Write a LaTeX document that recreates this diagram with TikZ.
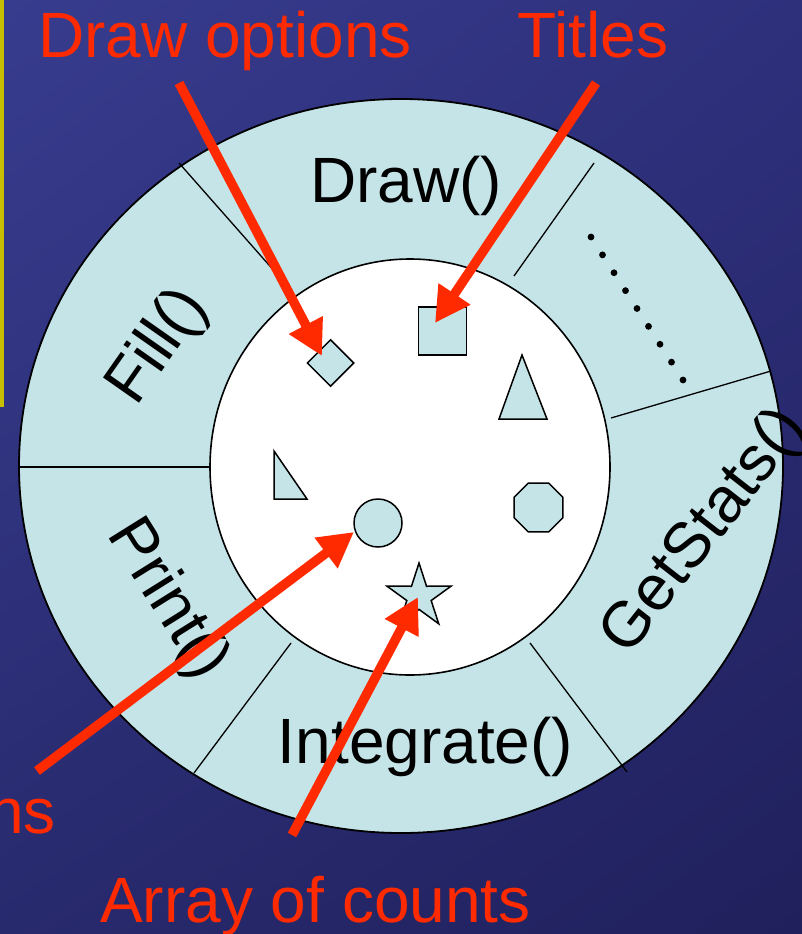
\documentclass[tikz,border=0pt]{standalone}
\usepackage{fontspec}
\setmainfont{Liberation Sans}
\usetikzlibrary{arrows.meta,shapes.geometric,shadings}
\definecolor{bgTL}{RGB}{56,60,142}
\definecolor{bgTR}{RGB}{46,48,124}
\definecolor{bgBL}{RGB}{40,42,110}
\definecolor{bgBR}{RGB}{32,32,92}
\definecolor{yellowline}{RGB}{200,190,0}
\definecolor{lightcyan}{RGB}{197,228,232}
\definecolor{arrowred}{RGB}{255,42,0}
\tikzset{
  lbl/.style={font=\fontsize{64}{72}\selectfont, inner sep=0pt, text=black},
  redlbl/.style={lbl, text=arrowred},
  redarrow/.style={draw=arrowred, line width=9.5pt, -{Triangle[length=35pt,width=36pt]}},
  shapeobj/.style={draw=black, fill=lightcyan, line width=1.5pt},
  divider/.style={draw=black, line width=1.3pt},
  ring/.style={ellipse, draw=black, fill=lightcyan, line width=1.8pt, inner sep=0pt},
  hole/.style={ellipse, draw=black, fill=white, line width=1.6pt, inner sep=0pt}
}
\begin{document}
\begin{tikzpicture}[x=1pt,y=-1pt]
\useasboundingbox (0,0) rectangle (802,934);
\clip (0,0) rectangle (802,934);
\shade[upper left=bgTL, upper right=bgTR, lower left=bgBL, lower right=bgBR] (0,0) rectangle (802,934);
\fill[yellowline] (0,0) rectangle (3.5,407);

% rings
\node[ring, minimum width=764pt, minimum height=734pt] (outer) at (401,466) {};
\node[hole, minimum width=400pt, minimum height=416pt] (inner) at (410,467) {};

% sector dividers
\draw[divider] (179,163) -- (276,273);
\draw[divider] (594,163) -- (514,276);
\draw[divider] (771,371) -- (611,418);
\draw[divider] (19,467) -- (210,467);
\draw[divider] (291,643) -- (194,773);
\draw[divider] (530,643) -- (627,772);

% dots
\foreach \k in {0,...,8}
  \fill[black] (591+11.5*\k, 237+17.875*\k) circle (3.4pt);

% method labels
\node[lbl, anchor=base] (draw) at (406,202) {Draw()};
\node[lbl, anchor=base] (integ) at (425.5,763) {Integrate()};
\node[lbl, rotate=55] (fill) at (159,347) {Fill()};
\node[lbl, rotate=-58] (print) at (167,600) {Print()};
\node[lbl, rotate=52] (stats) at (705,532) {GetStats()};

% objects
\node[shapeobj, diamond, minimum width=47pt, minimum height=47pt, inner sep=0pt] (dia) at (330.5,363) {};
\node[shapeobj, rectangle, minimum size=48pt, inner sep=0pt] (sq) at (442.5,331) {};
\node[shapeobj, circle, minimum size=48pt, inner sep=0pt] (circ) at (378,523) {};
\filldraw[shapeobj] (522,355) -- (547,419) -- (499,419) -- cycle;
\filldraw[shapeobj] (274,451) -- (307,499) -- (274,499) -- cycle;
\filldraw[shapeobj, shift={(538.5,507.5)}] (22.5:26.5) -- (67.5:26.5) -- (112.5:26.5) -- (157.5:26.5) -- (202.5:26.5) -- (247.5:26.5) -- (292.5:26.5) -- (337.5:26.5) -- cycle;
\filldraw[shapeobj, shift={(419,596.6)}] (-90:33.6) -- (-54:12.8) -- (-18:33.6) -- (18:12.8) -- (54:33.6) -- (90:12.8) -- (126:33.6) -- (162:12.8) -- (198:33.6) -- (234:12.8) -- cycle;

% red labels
\node[redlbl, anchor=base] (optlbl) at (225,58) {Draw options};
\node[redlbl, anchor=base] (titlbl) at (593,58) {Titles};
\node[redlbl, anchor=base] (arrlbl) at (315.5,922) {Array of counts};
\node[redlbl, anchor=base east] (nslbl) at (56,833) {ns};

% arrow ends
\coordinate (s1) at (179,83);
\coordinate (t1) at (322,356);
\coordinate (s2) at (596,83);
\coordinate (t2) at (435,323);
\coordinate (s3) at (37,771);
\coordinate (t3) at (354,532);
\coordinate (s4) at (292,835);
\coordinate (t4) at (418,597);
\draw[redarrow] (s1) -- (t1);
\draw[redarrow] (s2) -- (t2);
\draw[redarrow] (s3) -- (t3);
\draw[redarrow] (s4) -- (t4);
\end{tikzpicture}
\end{document}
